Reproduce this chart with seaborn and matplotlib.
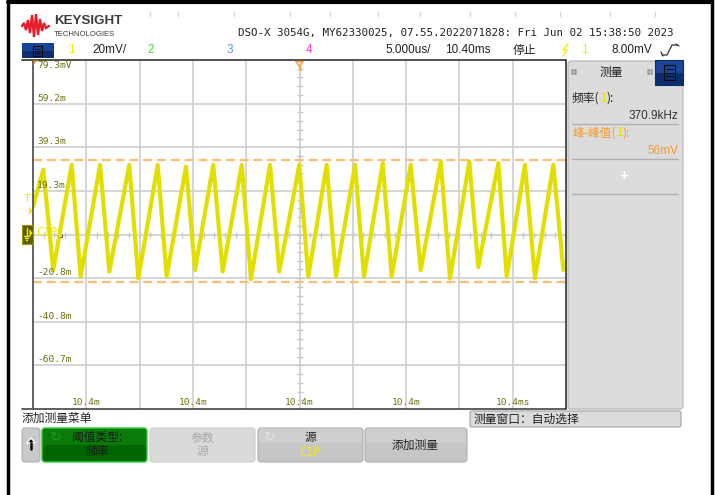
import numpy as np
import pandas as pd
import matplotlib
matplotlib.use("Agg")
import matplotlib.pyplot as plt
import seaborn as sns
from matplotlib.patches import Rectangle, FancyBboxPatch, Polygon

# ---- data (time in us, voltage in mV) ----
start_t, start_v = 0.0, 12.0
end_t, end_v = 50.0, -14.0
peak_t = [0.97, 3.63, 6.29, 9.03, 11.70, 14.35, 16.91, 19.58, 22.23, 24.98,
          27.55, 30.21, 32.81, 35.43, 38.25, 40.93, 43.65, 46.15, 48.81]
peak_v = [29.0, 31.2, 31.2, 31.2, 31.2, 30.4, 31.2, 31.2, 31.2, 31.2,
          31.2, 31.2, 32.0, 31.2, 32.7, 32.7, 32.0, 31.2, 31.2]
trough_t = [1.90, 4.47, 7.16, 9.88, 12.54, 15.20, 17.80, 20.45, 23.11, 25.83,
            28.42, 31.05, 33.65, 36.37, 39.12, 41.77, 44.44, 47.09, 49.75]
trough_v = [-17.0, -20.0, -17.7, -20.8, -20.0, -17.0, -17.7, -21.2, -17.7, -20.0,
            -20.0, -20.0, -20.0, -17.0, -20.8, -15.6, -20.0, -20.8, -17.0]

cursor_top, cursor_bottom = 33.6, -22.4
y_labels = ["79.3mV", "59.2m", "39.3m", "19.3m", "", "-20.8m", "-40.8m", "-60.7m"]
x_labels = ["10.4m", "10.4m", "10.4m", "10.4m", "10.4ms"]

volts_per_div = 20.0
us_per_div = 5.0
top_v = 79.3

# build the trace table
t_all = [start_t]
v_all = [start_v]
for pt, pv, tt, tv in zip(peak_t, peak_v, trough_t, trough_v):
    t_all += [pt, tt]
    v_all += [pv, tv]
t_all.append(end_t)
v_all.append(end_v)
trace = pd.DataFrame({"t": t_all, "v": v_all})

sns.set_style("white")
plt.rcParams["font.family"] = ["Liberation Sans", "Noto Sans CJK SC", "DejaVu Sans"]
cjk = ["Noto Sans CJK SC", "DejaVu Sans"]

W, H = 721, 495
fig = plt.figure(figsize=(W / 100, H / 100), dpi=100)
fig.patch.set_facecolor("white")

# ---- scope graticule ----
px_l, px_r, px_t, px_b = 33, 566, 60, 409
ax = fig.add_axes([px_l / W, 1 - px_b / H, (px_r - px_l) / W, (px_b - px_t) / H])
ax.set_facecolor("white")
x_min, x_max = 0, 10 * us_per_div
y_max = top_v
y_min = top_v - 8 * volts_per_div
ax.set_xlim(x_min, x_max)
ax.set_ylim(y_min, y_max)
for s in ax.spines.values():
    s.set_visible(False)
ax.set_xticks([])
ax.set_yticks([])

grid_c = "#d2d2d2"
for i in range(1, 10):
    ax.axvline(i * us_per_div, color=grid_c, lw=1.3, zorder=1)
for i in range(1, 8):
    ax.axhline(y_max - i * volts_per_div, color=grid_c, lw=1.3, zorder=1)

# small minor ticks on the center lines
mid_t = 5 * us_per_div
mid_v = y_max - 4 * volts_per_div
minor_t = np.arange(x_min, x_max + 0.01, us_per_div / 5)
minor_v = np.arange(y_min, y_max + 0.01, volts_per_div / 5)
ax.plot(minor_t, np.full(len(minor_t), mid_v), ls="none", marker="|", ms=5,
        mew=1, color="#c8c8c8", zorder=1)
ax.plot(np.full(len(minor_v), mid_t), minor_v, ls="none", marker="_", ms=5,
        mew=1, color="#c8c8c8", zorder=1)

# measurement cursors
for cv in (cursor_top, cursor_bottom):
    ax.axhline(cv, color="#fbbd74", lw=1.6, ls=(0, (4, 2.2)), zorder=2)

# the trace
sns.lineplot(data=trace, x="t", y="v", sort=False, ax=ax, color="#e2df00",
             lw=3.0, zorder=3, legend=False)
ax.set_xlabel("")
ax.set_ylabel("")

lab_c = "#6f6f10"
for i, lab in enumerate(y_labels):
    if not lab:
        continue
    yv = y_max - i * volts_per_div
    if i == 0:
        ax.text(0.4, yv - 0.6, lab, fontsize=6.8, family="DejaVu Sans Mono",
                color=lab_c, va="top", ha="left", zorder=4)
    else:
        ax.text(0.4, yv + 0.5, lab, fontsize=6.8, family="DejaVu Sans Mono",
                color=lab_c, va="bottom", ha="left", zorder=4)
for j, lab in enumerate(x_labels):
    xv = (2 * j + 1) * us_per_div
    ax.text(xv, y_min + 1.0, lab, fontsize=6.8, family="DejaVu Sans Mono",
            color=lab_c, va="bottom", ha="center", zorder=4)

# ---- screen chrome in pixel coordinates ----
ui = fig.add_axes([0, 0, 1, 1], zorder=5)
ui.set_xlim(0, W)
ui.set_ylim(H, 0)
ui.axis("off")
ui.patch.set_alpha(0)


def box(x0, y0, x1, y1, fc, ec="none", lw=0.8, r=0.0, z=1):
    if r > 0:
        p = FancyBboxPatch((x0, y0), x1 - x0, y1 - y0,
                           boxstyle=f"round,pad=0,rounding_size={r}",
                           fc=fc, ec=ec, lw=lw, zorder=z)
    else:
        p = Rectangle((x0, y0), x1 - x0, y1 - y0, fc=fc, ec=ec, lw=lw, zorder=z)
    ui.add_patch(p)


def txt(x, y, s, size=8.5, color="#222222", ha="left", va="center", **kw):
    ui.text(x, y, s, fontsize=size, color=color, ha=ha, va=va, zorder=6, **kw)


# outer black frame
ui.plot([8, 8], [0, H], color="black", lw=2.5)
ui.plot([711.5, 711.5], [0, H], color="black", lw=2.5)
ui.plot([8, 711.5], [1.5, 1.5], color="black", lw=3)

# faint marks along the top
for xm in [150, 178, 234, 290, 330, 378, 420, 470, 515, 560, 610, 655]:
    ui.plot([xm, xm], [12, 16], color="#d8d8d8", lw=1)

# logo
logo_x = [22, 24, 26, 28, 30, 32, 34, 36, 38, 40, 42, 44, 46, 49]
logo_y = [26, 23, 30, 20, 33, 15, 37, 14, 35, 19, 31, 23, 28, 26]
ui.plot(logo_x, logo_y, color="#e3202b", lw=1.7, solid_joinstyle="miter")
txt(54, 21, "KEYSIGHT", size=9.6, color="#3c3c3c", weight="bold")
txt(54, 34, "TECHNOLOGIES", size=5.6, color="#3c3c3c")
txt(238, 33, "DSO-X 3054G, MY62330025, 07.55.2022071828: Fri Jun 02 15:38:50 2023",
    size=7.8, family="DejaVu Sans Mono", color="#222222")

# second row
box(22, 43, 54, 58, "#17429a")
box(22, 51, 54, 58, "#0b2e6e")
box(33, 45.5, 42, 55.5, "none", ec="#0a0a0a", lw=0.8, z=2)
for yy in (48.5, 50.5, 52.5):
    ui.plot([35, 40], [yy, yy], color="#0a0a0a", lw=0.6, zorder=3)
txt(68, 50, "1", color="#f2ec00", size=8.5)
txt(92, 50, "20mV/", size=8.5)
txt(147, 50, "2", color="#33dd33", size=8.5)
txt(227, 50, "3", color="#5e8cff", size=8.5)
txt(306, 50, "4", color="#ff2fd0", size=8.5)
txt(385, 50, "5.000us/", size=8.5)
txt(445, 50, "10.40ms", size=8.5)
txt(513, 50, "停止", size=8.5, family=cjk)
ui.plot([563, 567, 563, 568], [56, 50, 50, 44], color="#f2ec00", lw=1)
txt(581, 50, "1", color="#f2ec00", size=8.5)
txt(612, 50, "8.00mV", size=8.5)
ui.plot([662, 667, 672, 677], [55, 55, 45, 45], color="#333333", lw=0.9)
ui.plot([661, 663], [52, 56], color="#333333", lw=0.9)
ui.plot([676, 679], [44, 46], color="#333333", lw=0.9)

# plot frame
ui.plot([22, px_r], [px_t, px_t], color="#333333", lw=1.2)
ui.plot([22, px_r], [px_b, px_b], color="#444444", lw=1.2)
ui.plot([px_l, px_l], [px_t, px_b], color="#555555", lw=1.3)
ui.plot([px_r, px_r], [px_t, px_b], color="#333333", lw=1.2)
ui.add_patch(Polygon([[33.5, 60.5], [37.5, 60.5], [33.5, 65]], closed=True,
                     fc="#f58a1f", ec="none", zorder=4))
ui.plot([296, 299.5, 303, 296], [61.5, 67, 61.5, 61.5], color="#f09a3e", lw=1)
ui.plot([299.5, 299.5], [67, 70], color="#f09a3e", lw=1)

# trigger and ground markers
txt(27, 199, "T", size=8, color="#f2ec00", ha="center")
ui.add_patch(Polygon([[29, 207], [32.5, 211], [29, 215]], closed=True,
                     fc="#f2ec00", ec="none", zorder=4))
box(22, 225, 33, 244, "#5c5c00", ec="#9a9a00", lw=0.8, z=4)
ui.plot([26.5, 26.5], [228, 236], color="#f2ec00", lw=1, zorder=5)
ui.plot([24, 29], [236, 236], color="#f2ec00", lw=1, zorder=5)
ui.plot([25, 28], [238, 238], color="#f2ec00", lw=1, zorder=5)
ui.plot([26, 27], [240, 240], color="#f2ec00", lw=1, zorder=5)
ui.add_patch(Polygon([[29.5, 229], [32.5, 233], [29.5, 237]], closed=True,
                     fc="#f2ec00", ec="none", zorder=5))
txt(36, 233, "C1P", size=8.5, color="#f2ec00", family="DejaVu Sans Mono")
ui.plot([60, 62, 62], [237, 237, 234], color="#5a5a5a", lw=0.7)

# right measurement panel
box(568, 61, 683, 409, "#dcdcdc", ec="#b8b8b8", lw=0.9, r=3)
box(655, 60, 683, 85, "#1a4599", ec="#0b2c6a", lw=0.8)
box(655, 73, 683, 85, "#0b2e6e")
box(664, 65, 675, 80, "none", ec="#0a0a0a", lw=0.8, z=2)
for yy in (69, 72.5, 76):
    ui.plot([666, 673], [yy, yy], color="#0a0a0a", lw=0.6, zorder=3)
for xd in (572, 648):
    for yd in (70, 73):
        ui.plot([xd, xd + 2.5], [yd, yd], ls="none", marker="s", ms=0.8,
                color="#8a8a8a")
txt(611, 72, "测量", size=8.5, ha="center", family=cjk)
txt(572, 98, "频率(", size=8.5, family=cjk)
txt(601, 98, "1", size=8.5, color="#e8e000", family=cjk)
txt(607, 98, "):", size=8.5, family=cjk)
txt(678, 116, "370.9kHz", size=8.5, ha="right", color="#333333")
ui.plot([572, 678], [124, 124], color="#b0b0b0", lw=1)
txt(572, 133, "峰-峰值(", size=8.5, color="#f59a23", family=cjk)
txt(617, 133, "1", size=8.5, color="#e8e000", family=cjk)
txt(623, 133, "):", size=8.5, color="#f59a23", family=cjk)
txt(678, 151, "56mV", size=8.5, ha="right", color="#f59a23")
ui.plot([572, 678], [159, 159], color="#b0b0b0", lw=1)
txt(624, 176, "+", size=11, ha="center", color="white", weight="bold")
ui.plot([572, 678], [194, 194], color="#b0b0b0", lw=1)

# bottom softkey area
txt(22, 418, "添加测量菜单", size=8.5, family=cjk)
box(470, 411, 681, 427, "#dcdcdc", ec="#aaaaaa", lw=0.9, r=2)
txt(474, 419, "测量窗口：自动选择", size=8.5, family=cjk)

box(22, 428, 40, 462, "#c9c9c9", ec="#b0b0b0", lw=0.8, r=3)
ui.add_patch(Polygon([[31, 438], [35, 443], [27, 443]], closed=True, fc="black", zorder=3))
ui.plot([31, 31], [443, 449], color="black", lw=1.8, zorder=3)

box(42, 428, 147, 462, "#0a7a0a", ec="#2fd02f", lw=1, r=3)
box(43, 445, 146, 461, "#006400", r=3)
ui.text(56, 437, "↻", fontsize=10, color="#1c9a1c", ha="center", va="center",
        zorder=6, family="DejaVu Sans")
txt(97, 438, "阈值类型:", size=8.5, ha="center", color="#1a1a1a", family=cjk)
txt(97, 452, "频率", size=8.5, ha="center", color="#1a1a1a", family=cjk)

box(150, 428, 255, 462, "#dadada", ec="#cccccc", lw=0.8, r=3)
txt(202, 438, "参数", size=8.5, ha="center", color="#a8a8a8", family=cjk)
txt(202, 452, "源", size=8.5, ha="center", color="#a8a8a8", family=cjk)

box(258, 428, 363, 462, "#c6c6c6", ec="#b0b0b0", lw=0.8, r=3)
box(259, 428.5, 362, 443, "#cfcfcf", r=3)
ui.text(270, 437, "↻", fontsize=10, color="#e4e4e4", ha="center", va="center",
        zorder=6, family="DejaVu Sans")
txt(310, 438, "源", size=8.5, ha="center", color="#222222", family=cjk)
txt(310, 452, "C1P", size=8.5, ha="center", color="#f2ec00", family="DejaVu Sans Mono")

box(365, 428, 467, 462, "#c6c6c6", ec="#b0b0b0", lw=0.8, r=3)
box(366, 428.5, 466, 443, "#cfcfcf", r=3)
txt(415, 445, "添加测量", size=8.5, ha="center", color="#222222", family=cjk)

fig.savefig("out.png", dpi=100, facecolor="white")
